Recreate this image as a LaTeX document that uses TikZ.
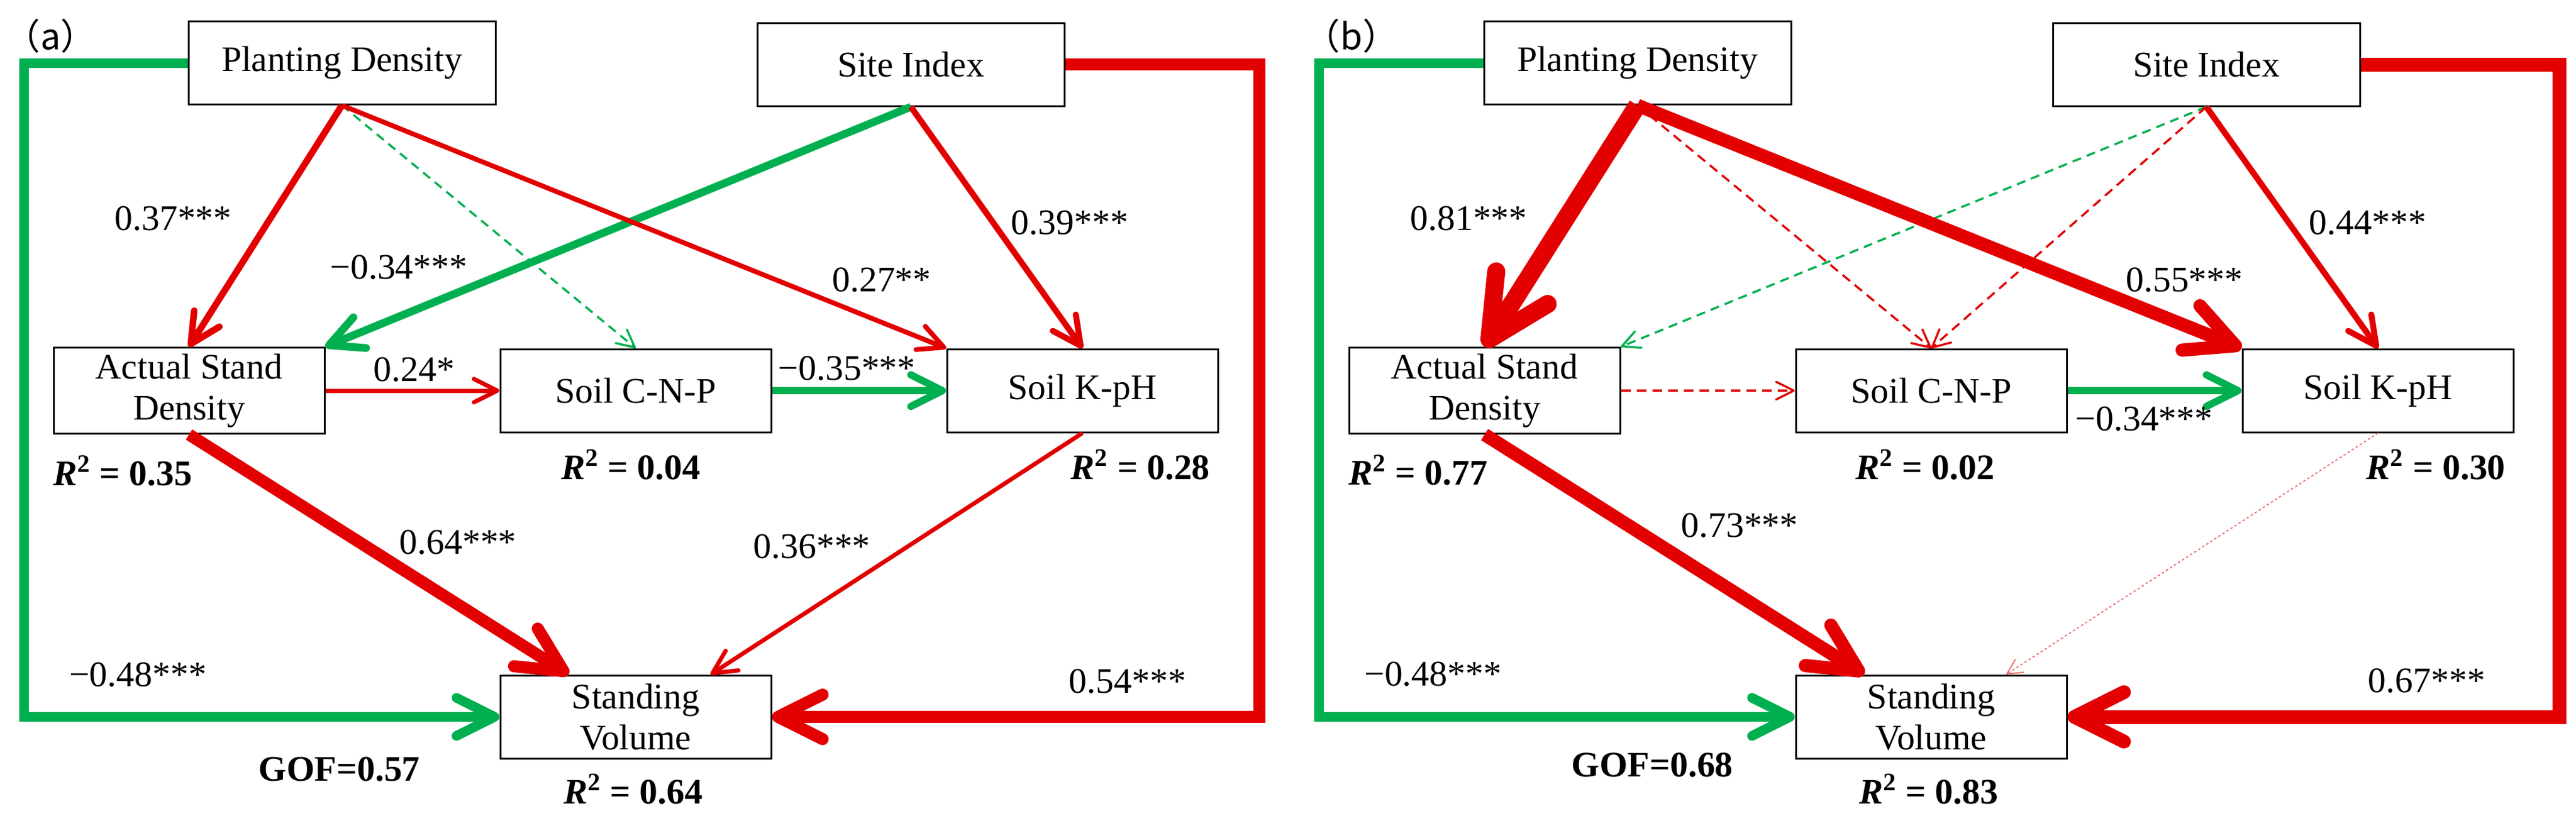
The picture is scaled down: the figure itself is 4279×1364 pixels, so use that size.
\documentclass[tikz,border=0pt]{standalone}
\usepackage{fontspec}
\setmainfont{Liberation Serif}
\newfontfamily\cjk{Noto Sans CJK SC}
\usetikzlibrary{positioning,arrows.meta}
\definecolor{pathred}{RGB}{226,0,0}
\definecolor{pathgreen}{RGB}{0,176,80}
\newcommand\coeffont{\fontsize{17}{19.5}\selectfont}
\tikzset{
  varbox/.style={draw, line width=.3mm, minimum width=45mm, minimum height=13.8mm,
    inner sep=1mm, align=center, font=\coeffont},
  topbox/.style={varbox, minimum width=51mm},
  coef/.style={font=\coeffont, inner sep=0pt},
  rsq/.style={font=\coeffont\bfseries, inner sep=0pt},
  tag/.style={font=\cjk\fontsize{17}{19.5}\selectfont, inner sep=0pt},
  barb/.style={-{Straight Barb[length=2mm 2.7, width=2mm 2.7, round]}},
  redeff/.style={draw=pathred, line width=#1, barb},
  greeneff/.style={draw=pathgreen, line width=#1, barb},
  reddash/.style={draw=pathred, line width=.35mm, dash pattern=on 1.6mm off 1mm, barb},
  greendash/.style={draw=pathgreen, line width=.35mm, dash pattern=on 1.5mm off 1mm, barb},
  reddot/.style={draw=pathred!55, line width=.2mm, dash pattern=on .4mm off .4mm, barb}
}
\begin{document}
\begin{tikzpicture}[x=0.1mm, y=-0.1mm, node distance=40.1mm and 28.9mm]
  \useasboundingbox (0,0) rectangle (4279,1364);

  % (a)
  \begin{scope}
    \node[tag] (taga) at (84,60) {（a）};
    \node[varbox] (ASDa) at (314,649) {Actual Stand\\Density};
    \node[varbox, right=of ASDa] (CNPa) {Soil C-N-P};
    \node[varbox, right=of CNPa] (KPHa) {Soil K-pH};
    \node[varbox, below=of CNPa] (SVa) {Standing\\Volume};
    \node[topbox, above=of ASDa, xshift=25.4mm] (PDa) {Planting Density};
    \node[topbox, above=of KPHa, xshift=-28.5mm] (SIa) {Site Index};

    \draw[redeff=1.1mm]   (PDa.south) -- node[coef, pos=.47, xshift=-16.1mm] {0.37***} (ASDa.north);
    \draw[greeneff=1.3mm] (SIa.south) -- node[coef, pos=.67, xshift=-19.9mm] {−0.34***} (ASDa.north east);
    \draw[greendash]      (PDa.south) -- (CNPa.north);
    \draw[redeff=.8mm]    (PDa.south) -- node[coef, pos=.72, xshift=17.4mm] {0.27**} (KPHa.north west);
    \draw[redeff=1mm]     (SIa.south) -- node[coef, pos=.48, xshift=12.7mm] {0.39***} (KPHa.north);
    \draw[redeff=.7mm]    (ASDa) -- node[coef, pos=.51, yshift=3.5mm] {0.24*} (CNPa);
    \draw[greeneff=1.2mm] (CNPa) -- node[coef, pos=.43, yshift=3.7mm] {−0.35***} (KPHa);
    \draw[redeff=2mm]     (ASDa.south) -- node[coef, pos=.45, xshift=16.3mm] {0.64***} ([xshift=11.5mm]SVa.north west);
    \draw[redeff=.7mm]    (KPHa.south) -- node[coef, pos=.47, xshift=-15.9mm] {0.36***} ([xshift=-10.2mm]SVa.north east);
    \draw[greeneff=1.6mm] (PDa.west) -- ++(-27.2mm,0) |- node[coef, pos=.62, yshift=7mm] {−0.48***} (SVa.west);
    \draw[redeff=2mm]     (SIa.east) -- ++(32.2mm,0) |- node[coef, pos=.635, yshift=5.9mm] {0.54***} (SVa.east);

    \node[rsq, anchor=west] (R2ASDa) at ([yshift=-6mm]ASDa.south west) {\textit{R}\textsuperscript{2} = 0.35};
    \node[rsq] (R2CNPa) at ([xshift=-.8mm, yshift=-5.3mm]CNPa.south) {\textit{R}\textsuperscript{2} = 0.04};
    \node[rsq, anchor=east] (R2KPHa) at ([xshift=-1.4mm, yshift=-5.3mm]KPHa.south east) {\textit{R}\textsuperscript{2} = 0.28};
    \node[rsq, anchor=east] (GOFa) at ([xshift=-13.1mm, yshift=-1.7mm]SVa.south west) {GOF=0.57};
    \node[rsq] (R2SVa) at ([xshift=-.4mm, yshift=-5mm]SVa.south) {\textit{R}\textsuperscript{2} = 0.64};
  \end{scope}

  % (b)
  \begin{scope}[xshift=215.2mm]
    \node[tag] (tagb) at (93,60) {（b）};
    \node[varbox] (ASDb) at (314,649) {Actual Stand\\Density};
    \node[varbox, right=of ASDb] (CNPb) {Soil C-N-P};
    \node[varbox, right=of CNPb] (KPHb) {Soil K-pH};
    \node[varbox, below=of CNPb] (SVb) {Standing\\Volume};
    \node[topbox, above=of ASDb, xshift=25.4mm] (PDb) {Planting Density};
    \node[topbox, above=of KPHb, xshift=-28.5mm] (SIb) {Site Index};

    \draw[greendash]      (SIb.south) -- (ASDb.north east);
    \draw[reddash]        (SIb.south) -- (CNPb.north);
    \draw[reddash]        (PDb.south) -- (CNPb.north);
    \draw[redeff=3mm]     (PDb.south) -- node[coef, pos=.47, xshift=-16.1mm] {0.81***} (ASDb.north);
    \draw[redeff=2.2mm]   (PDb.south) -- node[coef, pos=.72, xshift=18.6mm] {0.55***} (KPHb.north west);
    \draw[redeff=1mm]     (SIb.south) -- node[coef, pos=.48, xshift=13.1mm] {0.44***} (KPHb.north);
    \draw[reddash]        (ASDb) -- (CNPb);
    \draw[greeneff=1.2mm] (CNPb) -- node[coef, pos=.44, yshift=-4.7mm] {−0.34***} (KPHb);
    \draw[redeff=2.2mm]   (ASDb.south) -- node[coef, pos=.38, xshift=18.4mm] {0.73***} ([xshift=11.5mm]SVb.north west);
    \draw[reddot]         (KPHb.south) -- ([xshift=-10.2mm]SVb.north east);
    \draw[greeneff=1.6mm] (PDb.west) -- ++(-27.3mm,0) |- node[coef, pos=.62, yshift=7.1mm] {−0.48***} (SVb.west);
    \draw[redeff=2.3mm]   (SIb.east) -- ++(33mm,0) |- node[coef, pos=.635, yshift=6mm] {0.67***} (SVb.east);

    \node[rsq, anchor=west] (R2ASDb) at ([yshift=-5.9mm]ASDb.south west) {\textit{R}\textsuperscript{2} = 0.77};
    \node[rsq] (R2CNPb) at ([xshift=-1mm, yshift=-5.3mm]CNPb.south) {\textit{R}\textsuperscript{2} = 0.02};
    \node[rsq, anchor=east] (R2KPHb) at ([xshift=-1.4mm, yshift=-5.3mm]KPHb.south east) {\textit{R}\textsuperscript{2} = 0.30};
    \node[rsq, anchor=east] (GOFb) at ([xshift=-10.2mm, yshift=-1mm]SVb.south west) {GOF=0.68};
    \node[rsq] (R2SVb) at ([xshift=-.4mm, yshift=-5mm]SVb.south) {\textit{R}\textsuperscript{2} = 0.83};
  \end{scope}
\end{tikzpicture}
\end{document}
